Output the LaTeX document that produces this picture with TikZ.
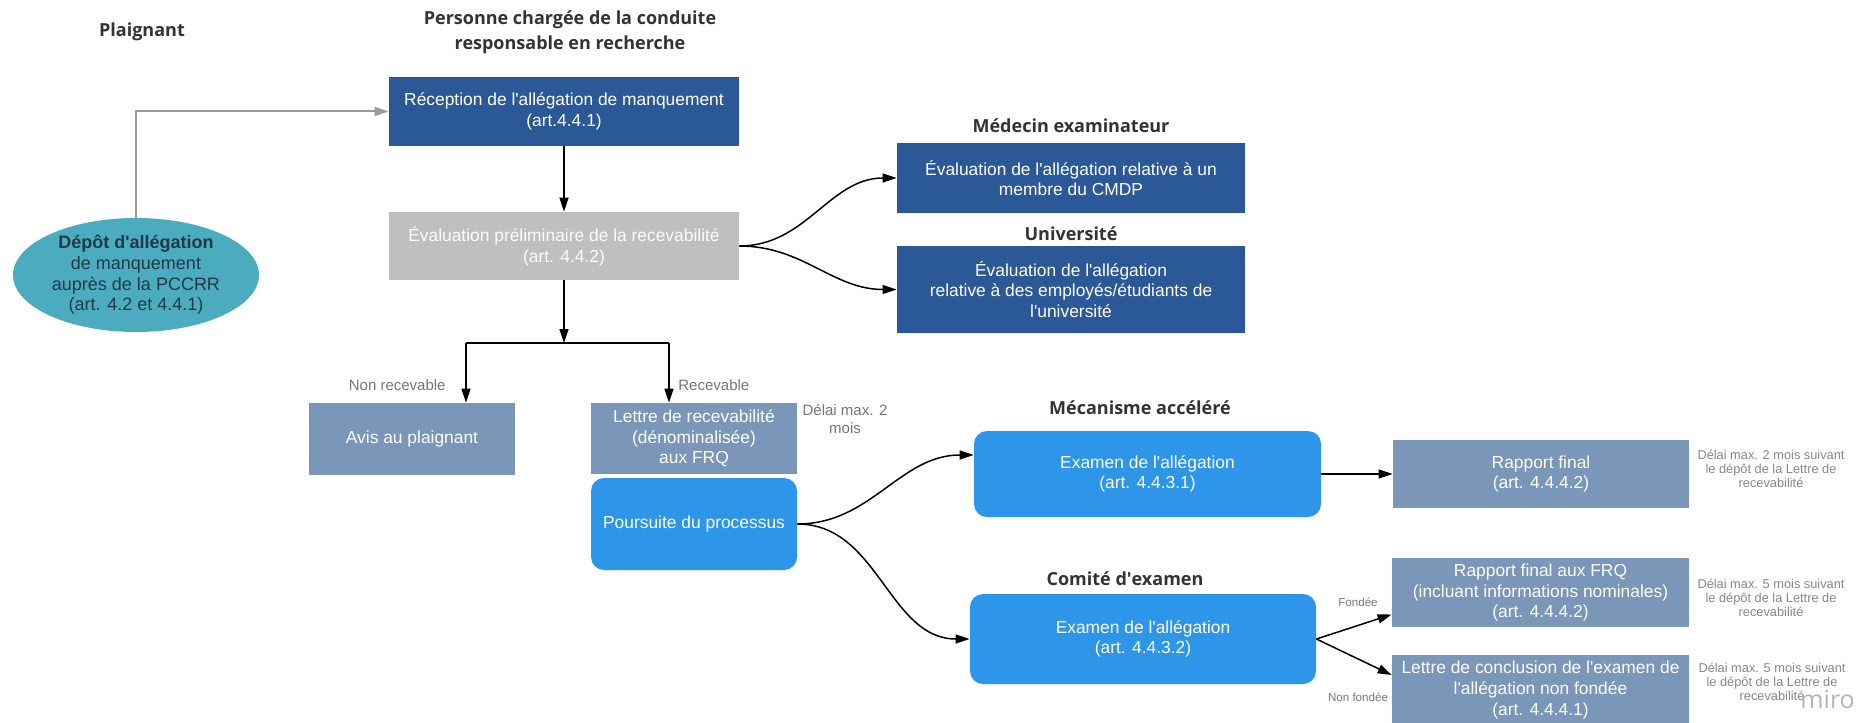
\documentclass[tikz,border=0pt]{standalone}
\usepackage{fontspec}
\setmainfont{Liberation Sans}
\newfontfamily\hfont{Open Sans}
\usetikzlibrary{arrows.meta,shapes.geometric}
\definecolor{dblue}{HTML}{2B5896}
\definecolor{lgray}{HTML}{BFBFBF}
\definecolor{slate}{HTML}{7A96B9}
\definecolor{bblue}{HTML}{2D96E8}
\definecolor{ellteal}{HTML}{4BACC0}
\definecolor{elltext}{HTML}{1F3A46}
\definecolor{hdrgray}{HTML}{333333}
\definecolor{lblgray}{HTML}{777777}
\definecolor{notegray}{HTML}{888888}
\definecolor{mirogray}{HTML}{B5B5B5}
\definecolor{conngray}{HTML}{9A9A9A}
\newcommand{\q}{\textquotesingle}
\tikzset{
  hdr/.style={font=\hfont\bfseries\fontsize{9}{12.5}\selectfont, text=hdrgray, align=center, inner sep=0pt},
  bx/.style={rectangle, inner sep=0pt, align=center, text=white, font=\fontsize{8.7}{10.3}\selectfont},
  rbx/.style={bx, fill=bblue, rounded corners=6.5pt},
  lbl/.style={font=\fontsize{7.5}{9}\selectfont, text=lblgray, inner sep=0pt, align=center},
  tiny/.style={font=\fontsize{5.8}{7}\selectfont, text=lblgray, inner sep=0pt},
  note/.style={font=\fontsize{6.4}{7}\selectfont, text=notegray, align=center, inner sep=0pt},
  arr/.style={-{Triangle[length=7pt,width=4.5pt]}, line width=0.75pt, black},
}
\begin{document}
\begin{tikzpicture}[x=0.5pt,y=-0.5pt]
\fill[white] (0,0) rectangle (1866,722);
\useasboundingbox (0,0) rectangle (1866,722);

% headers
\node[hdr] (hplai) at (142,32) {Plaignant};
\node[hdr] (hpers) at (570,32.5) {Personne chargée de la conduite\\responsable en recherche};
\node[hdr] (hmed) at (1071,126) {Médecin examinateur};
\node[hdr] (huniv) at (1071,234) {Université};
\node[hdr] (hmeca) at (1140,408) {Mécanisme accéléré};
\node[hdr] (hcomi) at (1125,579) {Comité d\q examen};

% nodes
\node[ellipse, fill=ellteal, minimum width=123pt, minimum height=57pt, inner sep=0pt,
      align=center, text=elltext, font=\fontsize{9}{10.3}\selectfont] (ell) at (136,275)
  {{\bfseries Dépôt d\q allégation}\\de manquement\\auprès de la PCCRR\\(art. 4.2 et 4.4.1)};

\node[bx, fill=dblue, minimum width=175pt, minimum height=34.5pt] (rec) at (564,111.5)
  {Réception de l\q allégation de manquement\\(art.4.4.1)};
\node[bx, fill=lgray, text=white!96!lgray, minimum width=175pt, minimum height=34pt] (eval) at (564,246)
  {Évaluation préliminaire de la recevabilité\\(art. 4.4.2)};
\node[bx, fill=dblue, minimum width=174pt, minimum height=35pt] (med) at (1071,178)
  {Évaluation de l\q allégation relative à un\\membre du CMDP};
\node[bx, fill=dblue, minimum width=174pt, minimum height=43.5pt] (univ) at (1071,289.5)
  {Évaluation de l\q allégation\\relative à des employés/étudiants de\\l\q université};
\node[bx, fill=slate, minimum width=103pt, minimum height=36pt] (avis) at (412,439)
  {Avis au plaignant};
\node[bx, fill=slate, minimum width=103pt, minimum height=35.5pt] (lettre) at (694,438.5)
  {Lettre de recevabilité\\(dénominalisée)\\aux FRQ};
\node[rbx, minimum width=103pt, minimum height=46pt] (pours) at (694,524)
  {Poursuite du processus};
\node[rbx, minimum width=173.5pt, minimum height=43pt] (ex1) at (1147.5,474)
  {Examen de l\q allégation\\(art. 4.4.3.1)};
\node[bx, fill=slate, minimum width=148pt, minimum height=34pt] (rap1) at (1541,474)
  {Rapport final\\(art. 4.4.4.2)};
\node[rbx, minimum width=173pt, minimum height=45pt] (ex2) at (1143,639)
  {Examen de l\q allégation\\(art. 4.4.3.2)};
\node[bx, fill=slate, minimum width=148.5pt, minimum height=34.5pt] (rap2) at (1540.5,592.5)
  {Rapport final aux FRQ\\(incluant informations nominales)\\(art. 4.4.4.2)};
\node[bx, fill=slate, minimum width=148.5pt, minimum height=35pt] (concl) at (1540.5,690)
  {Lettre de conclusion de l\q examen de\\l\q allégation non fondée\\(art. 4.4.4.1)};

% notes and labels
\node[lbl, anchor=east] (lnr) at (446,385) {Non recevable};
\node[lbl, anchor=west] (lrv) at (678,385) {Recevable};
\node[lbl] (ldel) at (845,419) {Délai max. 2\\mois};
\node[tiny] (lfon) at (1358,602) {Fondée};
\node[tiny] (lnf) at (1358,697) {Non fondée};
\node[note] (n1) at (1771,469) {Délai max. 2 mois suivant\\le dépôt de la Lettre de\\recevabilité};
\node[note] (n2) at (1771,598) {Délai max. 5 mois suivant\\le dépôt de la Lettre de\\recevabilité};
\node[note] (n3) at (1772,682) {Délai max. 5 mois suivant\\le dépôt de la Lettre de\\recevabilité};
\node[font=\hfont\fontsize{12.5}{14}\selectfont, text=mirogray, anchor=base west, inner sep=0pt] (miro) at (1800,708) {miro};

% connectors
\draw[conngray, line width=1pt, -{Triangle[length=7pt,width=4.5pt]}] (ell.north) |- (rec.west);
\draw[arr] (rec.south) -- (eval.north);
\draw[arr] (eval.east) to[out=0,in=180] (med.west);
\draw[arr] (eval.east) to[out=0,in=180] (univ.west);

\coordinate (jc) at (564,343);
\coordinate (jl) at (466,343);
\coordinate (jr) at (669,343);
\draw[arr] (eval.south) -- (jc);
\draw[line width=0.75pt] (jl) -- (jr);
\draw[arr] (jl) -- (jl |- avis.north);
\draw[arr] (jr) -- (jr |- lettre.north);

\draw[arr] (pours.east) to[out=0,in=180] ([yshift=9.5pt]ex1.west);
\draw[arr] (pours.east) to[out=0,in=180] (ex2.west);
\draw[arr] (ex1.east) -- (rap1.west);
\draw[arr] (ex2.east) -- ([yshift=-11pt]rap2.west);
\draw[arr] (ex2.east) -- ([yshift=7.5pt]concl.west);
\end{tikzpicture}
\end{document}
